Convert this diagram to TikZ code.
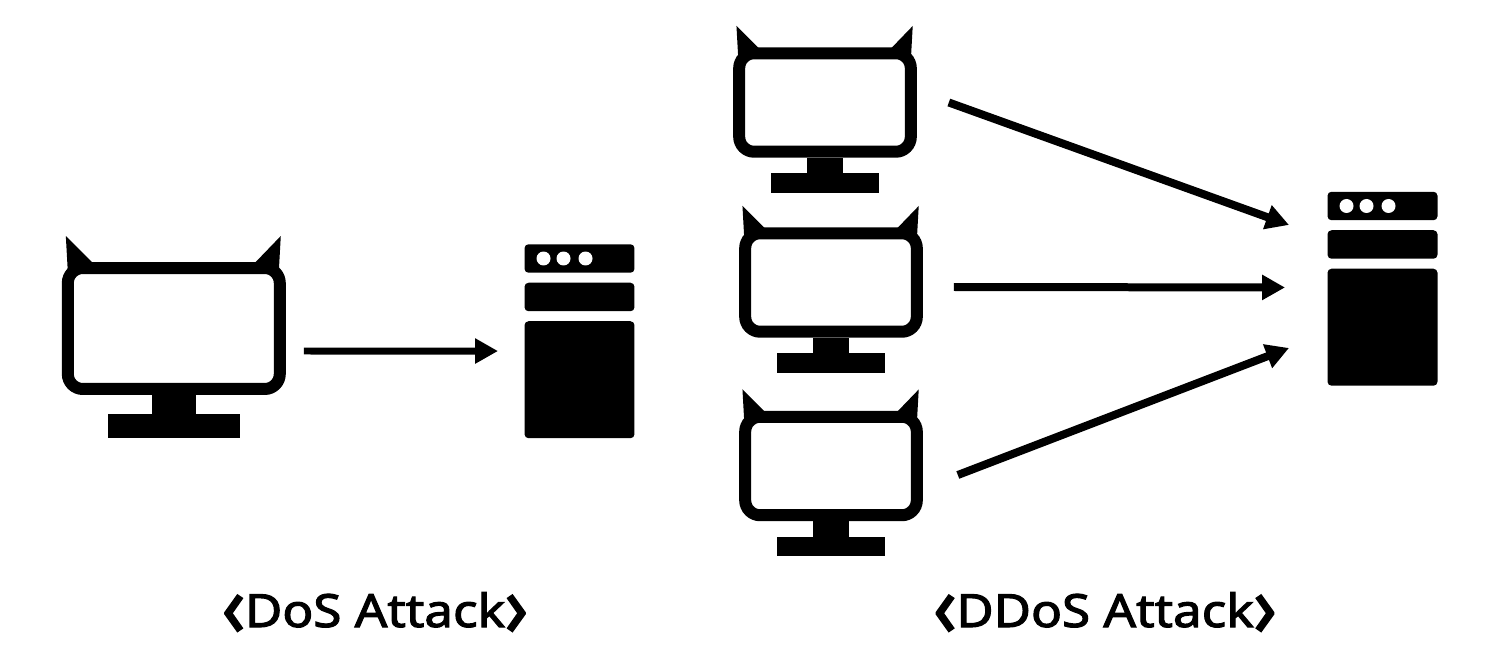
\documentclass[tikz,border=0pt]{standalone}
\usepackage{fontspec}
\newfontfamily\captionfont[AutoFakeBold=2.4, FakeStretch=1.12]{Noto Sans}
\usetikzlibrary{arrows.meta, positioning}

% the tall brackets of the captions
\newcommand{\lchev}{\raisebox{-0.2em}{\scalebox{1.45}[1.9]{‹}}}
\newcommand{\rchev}{\raisebox{-0.2em}{\scalebox{1.45}[1.9]{›}}}

% one monitor: name, centre of the screen, size factor
\newcommand{\monitor}[3]{
  \node[screenbox, minimum width=#3*4.48cm-0.24cm, minimum height=#3*2.5cm-0.08cm] (#1) at #2 {};
  \node[solid, minimum width=#3*0.88cm, minimum height=#3*0.38cm, below=0pt of #1] (#1stand) {};
  \node[solid, minimum width=#3*2.64cm, minimum height=#3*0.48cm, below=0pt of #1stand] (#1foot) {};
  \fill ([shift={(4*#3,-26*#3)}]#1.north west) -- ([shift={(32*#3,2*#3)}]#1.north west)
    -- ([shift={(6*#3,10*#3)}]#1.north west) -- cycle;
  \fill ([shift={(-5*#3,-26*#3)}]#1.north east) -- ([shift={(-32*#3,2*#3)}]#1.north east)
    -- ([shift={(-7*#3,10*#3)}]#1.north east) -- cycle;
}

% one server: name, centre of the top bar
\newcommand{\server}[2]{
  \node[rack, minimum height=0.57cm] (#1bar) at #2 {};
  \node[rack, minimum height=0.57cm, below=0.2cm of #1bar] (#1mid) {};
  \node[rack, minimum height=2.34cm, below=0.2cm of #1mid] (#1body) {};
  \node[led, right=0.24cm of #1bar.west] (#1leda) {};
  \node[led, right=0.12cm of #1leda] (#1ledb) {};
  \node[led, right=0.16cm of #1ledb] (#1ledc) {};
}

\begin{document}
\begin{tikzpicture}[x=0.02cm, y=-0.02cm,
  screenbox/.style={rectangle, draw=black, fill=white, line width=0.24cm, rounded corners=0.3cm},
  solid/.style={rectangle, fill=black, inner sep=0pt, outer sep=0pt},
  rack/.style={rectangle, fill=black, rounded corners=0.08cm, minimum width=2.2cm,
               inner sep=0pt, outer sep=0pt},
  led/.style={circle, fill=white, minimum size=0.28cm, inner sep=0pt, outer sep=0pt},
  arrow/.style={-{Triangle[length=0.46cm, width=0.48cm]}, line width=0.16cm, black},
  caption/.style={anchor=base, font=\captionfont\bfseries\fontsize{26}{30}\selectfont},
]
  \useasboundingbox (0,0) rectangle (1512,662);

  \monitor{atk}{(173.8,328.5)}{1}
  \server{dos}{(579.5,258.5)}

  \monitor{bota}{(825,102.5)}{0.82}
  \monitor{botb}{(831,282.5)}{0.82}
  \monitor{botc}{(831,466)}{0.82}
  \server{ddos}{(1382.5,206)}

  \draw[arrow, line width=0.14cm] ([shift={(18,22.5)}]atk.east) -- ([shift={(-26.5,-28.7)}]dosbody.west);
  \draw[arrow] ([shift={(32,0)}]bota.east) -- ([shift={(-38.5,-102.25)}]ddosbody.west);
  \draw[arrow] ([shift={(31,4.5)}]botb.east) -- ([shift={(-42.5,-39.75)}]ddosbody.west);
  \draw[arrow] ([shift={(35,9)}]botc.east) -- ([shift={(-38.5,20.75)}]ddosbody.west);

  \node[caption] (doslabel) at (375,627) {\lchev DoS Attack\rchev};
  \node[caption] (ddoslabel) at (1105,627) {\lchev DDoS Attack\rchev};
\end{tikzpicture}
\end{document}
